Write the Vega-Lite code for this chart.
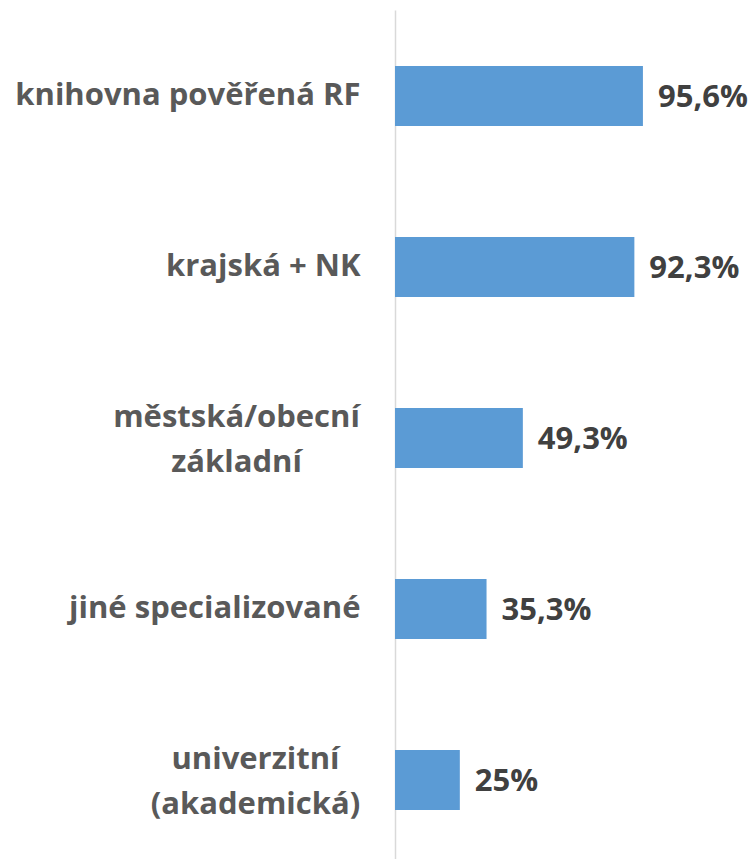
{
  "$schema": "https://vega.github.io/schema/vega-lite/v6.json",
  "autosize": "none",
  "padding": {"left": 395, "top": 10, "right": 0, "bottom": 0},
  "width": 361,
  "height": 856,
  "background": "white",
  "config": {"view": {"stroke": null}, "font": "Open Sans"},
  "data": {
    "values": [
      {"kategorie": "knihovna pověřená RF", "podil": 95.6, "popisek": "95,6%"},
      {"kategorie": "krajská + NK", "podil": 92.3, "popisek": "92,3%"},
      {"kategorie": "městská/obecní|základní", "podil": 49.3, "popisek": "49,3%"},
      {"kategorie": "jiné specializované", "podil": 35.3, "popisek": "35,3%"},
      {"kategorie": "univerzitní|(akademická)", "podil": 25, "popisek": "25%"}
    ]
  },
  "encoding": {
    "y": {
      "field": "kategorie",
      "type": "nominal",
      "sort": null,
      "scale": {"paddingInner": 0.649, "paddingOuter": 0.327},
      "axis": {
        "title": null,
        "ticks": false,
        "domainColor": "#d9d9d9",
        "domainWidth": 1.5,
        "labelExpr": "split(datum.value, '|')",
        "labelFont": "Open Sans",
        "labelFontWeight": "bold",
        "labelFontSize": 31,
        "labelColor": "#595959",
        "labelLineHeight": 45,
        "labelBaseline": "middle",
        "labelLimit": 400,
        "labelAlign": {"condition": {"test": "indexof(datum.value, '|') >= 0", "value": "center"}, "value": "right"},
        "labelOffset": {"condition": {"test": "indexof(datum.value, '|') >= 0", "value": -20}, "value": 0},
        "labelPadding": {"condition": [
          {"test": "indexof(datum.value, 'městská') >= 0", "value": 159},
          {"test": "indexof(datum.value, 'univerzitní') >= 0", "value": 140}
        ], "value": 35}
      }
    },
    "x": {
      "field": "podil",
      "type": "quantitative",
      "scale": {"domain": [0, 139.2]},
      "axis": null
    }
  },
  "layer": [
    {"mark": {"type": "bar", "color": "#5B9BD5"}},
    {
      "mark": {"type": "text", "align": "left", "baseline": "middle", "dx": 15, "dy": 2, "font": "Open Sans", "fontWeight": "bold", "fontSize": 31, "color": "#404040"},
      "encoding": {"text": {"field": "popisek"}}
    }
  ]
}
